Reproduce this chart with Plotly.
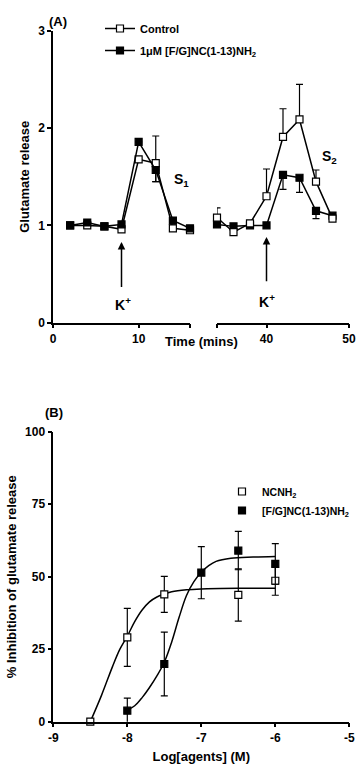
import plotly.graph_objects as go

# ---------------- Panel A data ----------------
t_s1 = [2, 4, 6, 8, 10, 12, 14, 16]
t_s2 = [34, 36, 38, 40, 42, 44, 46, 48]

ctrl_s1 = [1.00, 1.00, 0.99, 0.96, 1.68, 1.64, 0.97, 0.95]
ctrl_s1_up = [0, 0, 0, 0, 0, 0.28, 0, 0]
ctrl_s1_dn = [0, 0, 0, 0, 0, 0.19, 0, 0]
trt_s1 = [1.00, 1.03, 0.99, 1.01, 1.86, 1.57, 1.05, 0.97]
trt_s1_dn = [0, 0, 0, 0, 0, 0.12, 0, 0]

ctrl_s2 = [1.08, 0.93, 1.02, 1.30, 1.91, 2.09, 1.45, 1.07]
ctrl_s2_up = [0.10, 0, 0, 0.28, 0.29, 0.36, 0.12, 0]
trt_s2 = [1.01, 0.99, 1.00, 1.00, 1.52, 1.49, 1.15, 1.10]
trt_s2_dn = [0, 0, 0, 0, 0.15, 0.15, 0.08, 0]

# ---------------- Panel B data ----------------
nc_x = [-8.5, -8.0, -7.5, -6.5, -6.0]
nc_y = [0, 29.1, 43.9, 43.7, 48.6]
nc_err = [0, 10.0, 6.2, 9.0, 5.0]

fg_x = [-8.0, -7.5, -7.0, -6.5, -6.0]
fg_y = [3.8, 19.9, 51.4, 59.0, 54.4]
fg_err = [4.3, 11.0, 9.0, 6.6, 7.0]

# fitted curves
nc_curve_x = [-8.5, -8.35, -8.2, -8.1, -8.0, -7.9, -7.8, -7.7, -7.6, -7.5, -7.4, -7.2, -7.0, -6.5, -6.0]
nc_curve_y = [0, 9, 19, 25, 29.5, 34.5, 38.5, 41.3, 43.0, 44.0, 44.8, 45.5, 45.8, 46.0, 46.0]
fg_curve_x = [-8.0, -7.9, -7.8, -7.7, -7.6, -7.5, -7.4, -7.3, -7.2, -7.1, -7.0, -6.9, -6.8, -6.6, -6.3, -6.0]
fg_curve_y = [4.0, 5.5, 8.3, 11.8, 15.8, 20.5, 27.5, 36.0, 43.5, 48.3, 51.5, 53.8, 55.3, 56.4, 56.8, 57.0]

FONT = "Liberation Sans, Arial, sans-serif"
BLK = "black"

fig = go.Figure()

def sq(filled):
    return dict(symbol="square", size=7, color=BLK if filled else "white",
                line=dict(color=BLK, width=1.2))

def err(up, dn=None):
    d = dict(type="data", array=up, color=BLK, thickness=1.2, width=3.5, visible=True)
    if dn is not None:
        d["arrayminus"] = dn
        d["symmetric"] = False
    return d

zero8 = [0] * 8

# Panel A traces
fig.add_trace(go.Scatter(x=t_s1, y=ctrl_s1, mode="lines+markers", xaxis="x", yaxis="y",
                         line=dict(color=BLK, width=1.5), marker=sq(False),
                         error_y=err(ctrl_s1_up, ctrl_s1_dn), name="<b>Control</b>",
                         legend="legend", legendgroup="c", cliponaxis=False))
fig.add_trace(go.Scatter(x=t_s1, y=trt_s1, mode="lines+markers", xaxis="x", yaxis="y",
                         line=dict(color=BLK, width=1.5), marker=sq(True),
                         error_y=err(zero8, trt_s1_dn),
                         name="<b>1\u03bcM [F/G]NC(1-13)NH<sub>2</sub></b>",
                         legend="legend", legendgroup="t", cliponaxis=False))
fig.add_trace(go.Scatter(x=t_s2, y=trt_s2, mode="lines+markers", xaxis="x2", yaxis="y2",
                         line=dict(color=BLK, width=1.5), marker=sq(True),
                         error_y=err(zero8, trt_s2_dn), showlegend=False, cliponaxis=False))
fig.add_trace(go.Scatter(x=t_s2, y=ctrl_s2, mode="lines+markers", xaxis="x2", yaxis="y2",
                         line=dict(color=BLK, width=1.5), marker=sq(False),
                         error_y=err(ctrl_s2_up, zero8), showlegend=False, cliponaxis=False))

# Panel B traces
fig.add_trace(go.Scatter(x=nc_curve_x, y=nc_curve_y, mode="lines", xaxis="x3", yaxis="y3",
                         line=dict(color=BLK, width=1.5, shape="spline"), showlegend=False))
fig.add_trace(go.Scatter(x=fg_curve_x, y=fg_curve_y, mode="lines", xaxis="x3", yaxis="y3",
                         line=dict(color=BLK, width=1.5, shape="spline"), showlegend=False))
fig.add_trace(go.Scatter(x=nc_x, y=nc_y, mode="markers", xaxis="x3", yaxis="y3",
                         marker=sq(False), error_y=err(nc_err), name="<b>NCNH<sub>2</sub></b>",
                         legend="legend2", legendgroup="n", cliponaxis=False))
fig.add_trace(go.Scatter(x=fg_x, y=fg_y, mode="markers", xaxis="x3", yaxis="y3",
                         marker=sq(True), error_y=err(fg_err),
                         name="<b>[F/G]NC(1-13)NH<sub>2</sub></b>",
                         legend="legend2", legendgroup="f", cliponaxis=False))

# full-window figure; the page's default body margin is removed after plotting
W, H = 360, 771
def px(x):
    return x / W
def py(y):
    return 1 - y / H

tickfont = dict(family=FONT, size=12, color=BLK)
axis_common = dict(showline=True, linecolor=BLK, linewidth=1.5, ticks="outside",
                   tickcolor=BLK, tickwidth=1.5, ticklen=4, showgrid=False, zeroline=False,
                   tickfont=tickfont, automargin=False, ticklabeloverflow="allow")

fig.update_layout(
    width=W, height=H, margin=dict(l=0, r=0, t=0, b=0, autoexpand=False),
    paper_bgcolor="white", plot_bgcolor="white",
    font=dict(family=FONT, color=BLK),
    xaxis=dict(domain=[px(53), px(190)], range=[0, 16], tickvals=[0, 10, 16],
               ticktext=["<b>0</b>", "<b>10</b>", ""], anchor="y", **axis_common),
    yaxis=dict(domain=[py(322.6), py(31)], range=[0, 3], tickvals=[0, 1, 2, 3],
               ticktext=["<b>0</b>", "<b>1</b>", "<b>2</b>", "<b>3</b>"], anchor="x",
               title=dict(text="<b>Glutamate release</b>", font=dict(family=FONT, size=13, color=BLK),
                          standoff=6),
               **axis_common),
    xaxis2=dict(domain=[px(217), px(349)], range=[34, 50], tickvals=[34, 40, 50],
                ticktext=["", "<b>40</b>", "<b>50</b>"], anchor="y2", **axis_common),
    yaxis2=dict(domain=[py(322.6), py(31)], range=[0, 3], anchor="x2", visible=False),
    xaxis3=dict(domain=[px(53.3), px(349.3)], range=[-9, -5], tickvals=[-9, -8, -7, -6, -5],
                ticktext=["<b>-9</b>", "<b>-8</b>", "<b>-7</b>", "<b>-6</b>", "<b>-5</b>"],
                anchor="y3",
                title=dict(text="<b>Log[agents] (M)</b>", font=dict(family=FONT, size=13, color=BLK),
                           standoff=8),
                **axis_common),
    yaxis3=dict(domain=[py(721.7), py(431.7)], range=[0, 100], tickvals=[0, 25, 50, 75, 100],
                ticktext=["<b>0</b>", "<b>25</b>", "<b>50</b>", "<b>75</b>", "<b>100</b>"],
                anchor="x3",
                title=dict(text="<b>% Inhibition of glutamate release</b>",
                           font=dict(family=FONT, size=13, color=BLK), standoff=6),
                **axis_common),
    legend=dict(x=px(100), y=py(14), xanchor="left", yanchor="top",
                font=dict(family=FONT, size=11, color=BLK), bgcolor="rgba(0,0,0,0)",
                tracegroupgap=3, itemwidth=30),
    legend2=dict(x=px(222), y=py(477), xanchor="left", yanchor="top",
                 font=dict(family=FONT, size=10.5, color=BLK), bgcolor="rgba(0,0,0,0)",
                 tracegroupgap=0, itemwidth=30),
)

ann_font = dict(family=FONT, size=13, color=BLK)
annotations = [
    dict(text="<b>(A)</b>", x=px(47), y=py(12), xref="paper", yref="paper", showarrow=False,
         font=ann_font),
    dict(text="<b>(B)</b>", x=px(43), y=py(412), xref="paper", yref="paper", showarrow=False,
         font=ann_font),
    dict(text="<b>Time (mins)</b>", x=px(201), y=py(341), xref="paper", yref="paper",
         showarrow=False, font=ann_font),
    dict(text="<b>S<sub>1</sub></b>", x=15.0, y=1.47, xref="x", yref="y", showarrow=False,
         font=dict(family=FONT, size=14, color=BLK)),
    dict(text="<b>S<sub>2</sub></b>", x=47.6, y=1.70, xref="x2", yref="y2", showarrow=False,
         font=dict(family=FONT, size=14, color=BLK)),
    dict(text="<b>K<sup>+</sup></b>", x=8.2, y=0.19, xref="x", yref="y", showarrow=False,
         font=dict(family=FONT, size=14, color=BLK)),
    dict(text="<b>K<sup>+</sup></b>", x=40.1, y=0.22, xref="x2", yref="y2", showarrow=False,
         font=dict(family=FONT, size=14, color=BLK)),
    dict(text="", x=8, y=0.83, ax=8, ay=0.35, xref="x", yref="y", axref="x", ayref="y",
         showarrow=True, arrowhead=2, arrowsize=1, arrowwidth=1.5, arrowcolor=BLK),
    dict(text="", x=40, y=0.88, ax=40, ay=0.41, xref="x2", yref="y2", axref="x2", ayref="y2",
         showarrow=True, arrowhead=2, arrowsize=1, arrowwidth=1.5, arrowcolor=BLK),
]
fig.update_layout(annotations=annotations)

fig.write_html("out.html", config={"displayModeBar": False},
               post_script="document.body.style.margin='0';document.body.style.overflow='hidden';")
